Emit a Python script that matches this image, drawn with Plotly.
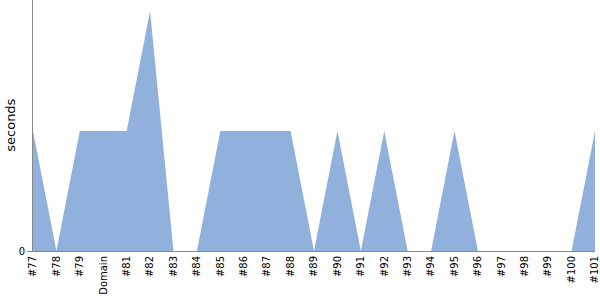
import plotly.graph_objects as go

categories = ["#77", "#78", "#79", "Domain", "#81", "#82", "#83", "#84", "#85", "#86",
              "#87", "#88", "#89", "#90", "#91", "#92", "#93", "#94", "#95", "#96",
              "#97", "#98", "#99", "#100", "#101"]
seconds = [1, 0, 1, 1, 1, 2, 0, 0, 1, 1,
           1, 1, 0, 1, 0, 1, 0, 0, 1, 0,
           0, 0, 0, 0, 1]

fig = go.Figure()
fig.add_trace(go.Scatter(
    x=categories, y=seconds, mode="none", fill="tozeroy",
    fillcolor="#8fb1db", hoverinfo="x+y"))

fig.update_layout(
    width=600, height=300,
    margin=dict(l=33, r=5, t=0, b=49),
    plot_bgcolor="white", paper_bgcolor="white",
    showlegend=False,
    font=dict(family="DejaVu Sans", size=10, color="black"),
)
fig.add_annotation(
    text="seconds", xref="paper", yref="paper", x=-0.0405, y=0.5,
    xanchor="center", yanchor="middle", textangle=-90, showarrow=False,
    font=dict(size=13),
)
fig.update_xaxes(
    type="category", range=[0, len(categories) - 1],
    tickangle=-90, showgrid=False, zeroline=False,
    showline=True, linecolor="#888888", linewidth=1,
    ticks="", tickfont=dict(size=10),
)
fig.update_yaxes(
    range=[0, 2.0917], tickvals=[0], ticktext=["0"],
    showgrid=False, zeroline=False,
    showline=True, linecolor="#888888", linewidth=1,
    ticks="outside", ticklen=5, tickcolor="#888888",
)
fig.write_html("out.html")
